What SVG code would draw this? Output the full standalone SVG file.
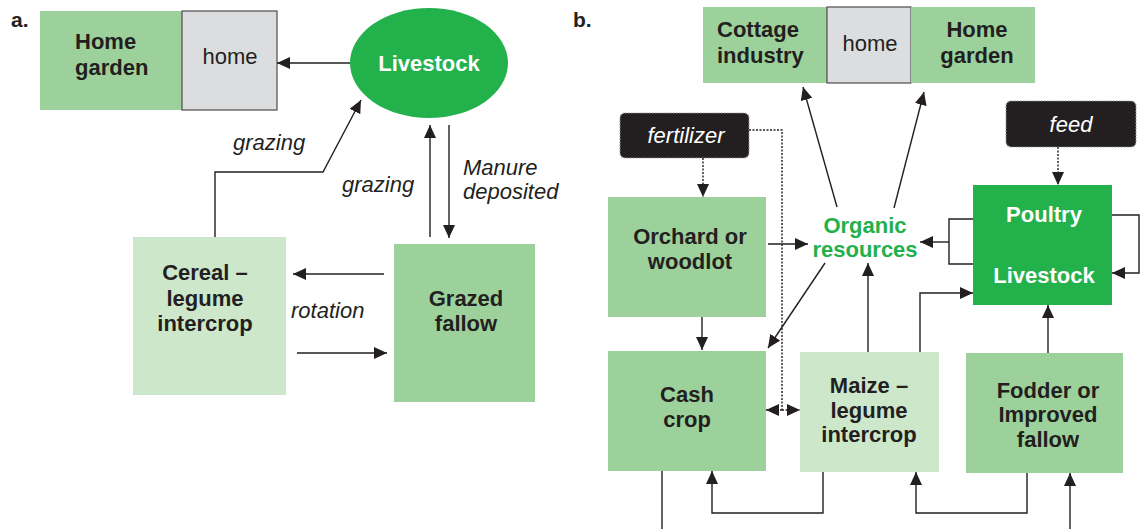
<svg xmlns="http://www.w3.org/2000/svg" width="1147" height="529" viewBox="0 0 1147 529">
<style>
.t{font-family:"Liberation Sans",Arial,sans-serif;font-size:22px;fill:#231f20}
.b{font-weight:bold}
.i{font-style:italic}
.w{fill:#ffffff}
.g{fill:#22b04b}
.c{text-anchor:middle}
.mid{fill:#9dd19b}
.lt{fill:#cde7cb}
.dk{fill:#23b14c}
.gr{fill:#dcdddf;stroke:#4d4d4f;stroke-width:1.2}
.blk{fill:#231f20;stroke:#9a9a9a;stroke-width:1.2;stroke-dasharray:1.5 1.5}
.ln{fill:none;stroke:#231f20;stroke-width:1.4}
.dt{fill:none;stroke:#231f20;stroke-width:1.4;stroke-dasharray:2 1.5}
</style>
<defs>
<marker id="ah" markerUnits="userSpaceOnUse" markerWidth="13" markerHeight="12" refX="13" refY="6" orient="auto">
<path d="M0,0 L13,6 L0,12 z" fill="#231f20"/>
</marker>
</defs>
<text class="t b" x="11" y="27" style="font-size:21px">a.</text>
<text class="t b" x="573" y="27" style="font-size:21px">b.</text>

<g id="a-home-garden">
<rect class="mid" x="40" y="11" width="142" height="99"/>
<text class="t b" x="75" y="49">Home</text>
<text class="t b" x="75" y="75">garden</text>
</g>
<g id="a-home">
<rect class="gr" x="182" y="11" width="95" height="99"/>
<text class="t c" x="230" y="64">home</text>
</g>
<g id="a-livestock">
<ellipse class="dk" cx="429" cy="63" rx="79" ry="55"/>
<text class="t b w c" x="429" y="71">Livestock</text>
</g>
<g id="a-cereal">
<rect class="lt" x="133" y="237" width="153" height="158"/>
<text class="t b c" x="205" y="280">Cereal –</text>
<text class="t b c" x="205" y="306">legume</text>
<text class="t b c" x="205" y="331">intercrop</text>
</g>
<g id="a-grazed">
<rect class="mid" x="394" y="244" width="141" height="158"/>
<text class="t b c" x="466" y="306">Grazed</text>
<text class="t b c" x="466" y="331">fallow</text>
</g>

<g id="b-cottage">
<rect class="mid" x="703" y="7" width="124" height="76"/>
<text class="t b" x="717" y="37">Cottage</text>
<text class="t b" x="717" y="63">industry</text>
</g>
<g id="b-home">
<rect class="gr" x="827" y="7" width="84" height="76"/>
<text class="t c" x="870" y="51">home</text>
</g>
<g id="b-home-garden">
<rect class="mid" x="911" y="7" width="124" height="76"/>
<text class="t b c" x="977" y="37">Home</text>
<text class="t b c" x="977" y="63">garden</text>
</g>
<g id="b-fertilizer">
<rect class="blk" x="620" y="113" width="129" height="45" rx="5"/>
<text class="t i w c" x="686" y="143">fertilizer</text>
</g>
<g id="b-feed">
<rect class="blk" x="1006" y="101" width="130" height="46" rx="5"/>
<text class="t i w c" x="1071" y="132">feed</text>
</g>
<g id="b-orchard">
<rect class="mid" x="608" y="197" width="158" height="120"/>
<text class="t b c" x="690" y="244">Orchard or</text>
<text class="t b c" x="690" y="269">woodlot</text>
</g>
<g id="b-organic">
<text class="t b g c" x="865" y="233">Organic</text>
<text class="t b g c" x="865" y="257">resources</text>
</g>
<g id="b-poultry">
<rect class="dk" x="973" y="185" width="139" height="120"/>
<text class="t b w c" x="1044" y="222">Poultry</text>
<text class="t b w c" x="1044" y="283">Livestock</text>
</g>
<g id="b-cash">
<rect class="mid" x="608" y="351" width="158" height="120"/>
<text class="t b c" x="687" y="402">Cash</text>
<text class="t b c" x="687" y="427">crop</text>
</g>
<g id="b-maize">
<rect class="lt" x="800" y="352" width="139" height="120"/>
<text class="t b c" x="869" y="393">Maize –</text>
<text class="t b c" x="869" y="418">legume</text>
<text class="t b c" x="869" y="442">intercrop</text>
</g>
<g id="b-fodder">
<rect class="mid" x="966" y="353" width="157" height="120"/>
<text class="t b c" x="1048" y="398">Fodder or</text>
<text class="t b c" x="1048" y="422">Improved</text>
<text class="t b c" x="1048" y="447">fallow</text>
</g>

<g id="connectors">
<path class="ln" d="M350,63 H277" marker-end="url(#ah)"/>
<path class="ln" d="M215,237 V172 H323 L361,100" marker-end="url(#ah)"/>
<path class="ln" d="M430,237 V125" marker-end="url(#ah)"/>
<path class="ln" d="M449,125 V238" marker-end="url(#ah)"/>
<path class="ln" d="M384,274 H293" marker-end="url(#ah)"/>
<path class="ln" d="M297,353 H387" marker-end="url(#ah)"/>

<path class="ln" d="M837,207 L803,87" marker-end="url(#ah)"/>
<path class="ln" d="M894,208 L924,92" marker-end="url(#ah)"/>
<path class="dt" d="M703,158 V197" marker-end="url(#ah)"/>
<path class="dt" d="M749,130 H782 V410"/>
<path class="dt" d="M782,410 H766" marker-end="url(#ah)"/>
<path class="dt" d="M782,410 H800" marker-end="url(#ah)"/>
<path class="dt" d="M1058,147 V185" marker-end="url(#ah)"/>
<path class="ln" d="M768,244 H808" marker-end="url(#ah)"/>
<path class="ln" d="M702,317 V350" marker-end="url(#ah)"/>
<path class="ln" d="M825,263 L768,348" marker-end="url(#ah)"/>
<path class="ln" d="M868,352 V263" marker-end="url(#ah)"/>
<path class="ln" d="M920,352 V293 H973" marker-end="url(#ah)"/>
<path class="ln" d="M973,219 H949 V264 H973"/>
<path class="ln" d="M949,242 H920" marker-end="url(#ah)"/>
<path class="ln" d="M1112,215 H1139 V273 H1112" marker-end="url(#ah)"/>
<path class="ln" d="M1048,353 V305" marker-end="url(#ah)"/>
<path class="ln" d="M823,472 V513 H712 V471" marker-end="url(#ah)"/>
<path class="ln" d="M1027,473 V513 H916 V472" marker-end="url(#ah)"/>
<path class="ln" d="M1070,529 V473" marker-end="url(#ah)"/>
<path class="ln" d="M662,471 V529"/>
<text class="t i" x="233" y="150">grazing</text>
<text class="t i" x="342" y="192">grazing</text>
<text class="t i" x="463" y="175">Manure</text>
<text class="t i" x="463" y="199">deposited</text>
<text class="t i" x="291" y="318">rotation</text>
</g>
</svg>
